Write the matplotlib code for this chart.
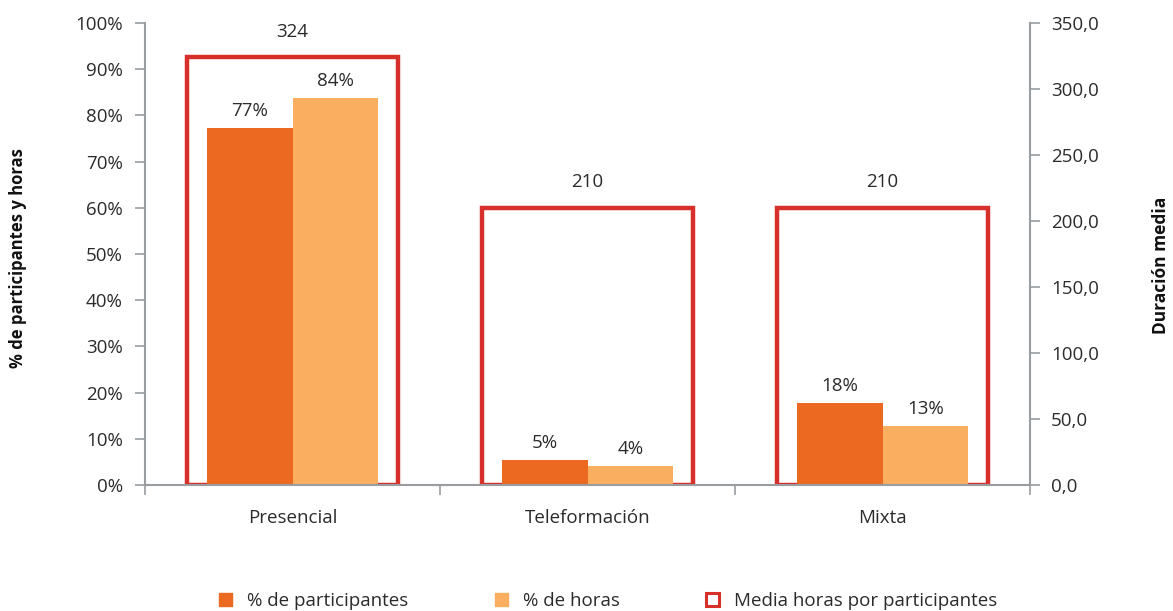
import matplotlib
matplotlib.use("Agg")
import matplotlib.pyplot as plt
from matplotlib.patches import Patch
import numpy as np

categories = ["Presencial", "Teleformación", "Mixta"]
pct_participantes = [77.3, 5.4, 17.7]
pct_horas = [83.8, 4.1, 12.8]
media_horas = [324, 210, 210]

left_ticks = [0, 10, 20, 30, 40, 50, 60, 70, 80, 90, 100]
right_ticks = [0, 50, 100, 150, 200, 250, 300, 350]

c_part = "#EB6920"
c_horas = "#F9AF5F"
c_media = "#D7302A"
c_axis = "#9A9DA0"
c_text = "#2B2B2B"

FS = 13.5
plt.rcParams["font.family"] = ["Open Sans", "DejaVu Sans"]
plt.rcParams["font.size"] = FS

fig = plt.figure(figsize=(11.73, 6.11), dpi=100)
ax = fig.add_axes([145/1173, 1-485/611, (1030-145)/1173, (485-23)/611])
ax2 = ax.twinx()

x = np.arange(len(categories))
bw = 0.29

# outline bars on secondary axis
ax2.bar(x, media_horas, width=0.715, facecolor="none", edgecolor=c_media,
        linewidth=3.2, zorder=3)
for xi, v in zip(x, media_horas):
    ax2.annotate(f"{v:.0f}", (xi, v), xytext=(0, 12), textcoords="offset points",
                 ha="center", va="bottom", color=c_text, fontsize=FS)

ax.bar(x - bw/2, pct_participantes, width=bw, color=c_part, zorder=2)
ax.bar(x + bw/2, pct_horas, width=bw, color=c_horas, zorder=2)
for xi, v in zip(x, pct_participantes):
    ax.annotate(f"{v:.0f}%", (xi - bw/2, v), xytext=(0, 6), textcoords="offset points",
                ha="center", va="bottom", color=c_text, fontsize=FS)
for xi, v in zip(x, pct_horas):
    ax.annotate(f"{v:.0f}%", (xi + bw/2, v), xytext=(0, 6), textcoords="offset points",
                ha="center", va="bottom", color=c_text, fontsize=FS)

ax.set_xlim(-0.5, 2.5)
ax.set_ylim(0, 100)
ax2.set_ylim(0, 350)
ax.set_yticks(left_ticks)
ax.set_yticklabels([f"{t}%" for t in left_ticks])
ax2.set_yticks(right_ticks)
ax2.set_yticklabels([f"{t:.1f}".replace(".", ",") for t in right_ticks])

ax.set_xticks(x)
ax.set_xticklabels(categories)
ax.tick_params(axis="x", which="major", length=0, pad=17, colors=c_text)
ax.set_xticks([-0.5, 0.5, 1.5, 2.5], minor=True)
ax.tick_params(axis="x", which="minor", length=7, color=c_axis, width=1.2, direction="out")

ax.tick_params(axis="y", length=7, width=1.2, pad=9, color=c_axis, labelcolor=c_text)
ax2.tick_params(axis="y", length=7, color=c_axis, width=1.2, pad=8, labelcolor=c_text)

for a in (ax, ax2):
    a.spines["top"].set_visible(False)
    for s in ("left", "right", "bottom"):
        a.spines[s].set_color(c_axis)
        a.spines[s].set_linewidth(1.5)
ax.spines["right"].set_visible(False)
ax2.spines["left"].set_visible(False)
ax2.spines["bottom"].set_visible(False)
ax.set_zorder(ax2.get_zorder() + 1)
ax.patch.set_visible(False)
ax.spines["bottom"].set_zorder(5)

fig.text(18/1173, 1-258/611, "% de participantes y horas", rotation=90, ha="center",
         va="center", fontsize=12, fontweight="bold", color="#111111")
fig.text(1161/1173, 1-265/611, "Duración media", rotation=90, ha="center",
         va="center", fontsize=12.5, fontweight="bold", color="#111111")

handles = [
    Patch(facecolor=c_part, edgecolor=c_part),
    Patch(facecolor=c_horas, edgecolor=c_horas),
    Patch(facecolor="white", edgecolor=c_media, linewidth=2.2),
]
labels = ["% de participantes", "% de horas", "Media horas por participantes"]
fig.legend(handles, labels, loc="center", bbox_to_anchor=(608/1173, 1-601/611), ncol=3,
           frameon=False, handlelength=0.7, handleheight=0.7, handletextpad=0.8,
           columnspacing=4.6, fontsize=FS, labelcolor=c_text)

fig.savefig("out.png", dpi=100)
